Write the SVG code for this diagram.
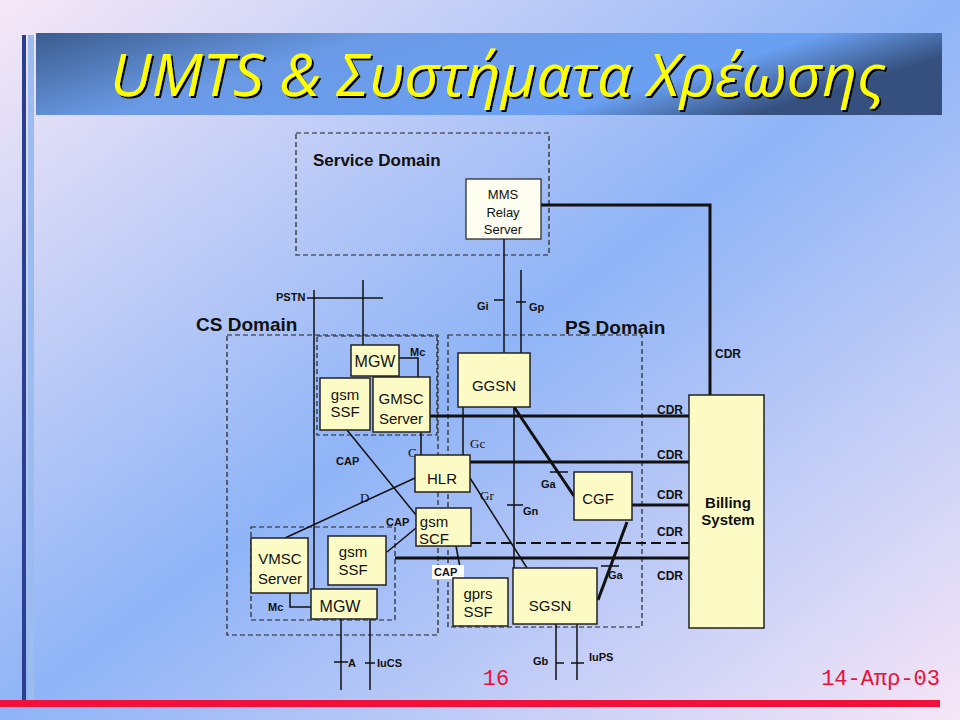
<svg xmlns="http://www.w3.org/2000/svg" width="960" height="720" viewBox="0 0 960 720">
<defs>
<linearGradient id="bg" x1="0" y1="0" x2="1" y2="1"><stop offset="0" stop-color="#f6e8f6"/><stop offset="0.5" stop-color="#8fb4f6"/><stop offset="1" stop-color="#f6e6f6"/></linearGradient>
<linearGradient id="ban" x1="0" y1="0" x2="1" y2="0.3"><stop offset="0" stop-color="#3b5c8e"/><stop offset="0.35" stop-color="#6a9ae6"/><stop offset="0.8" stop-color="#6aa0f2"/><stop offset="1" stop-color="#35507e"/></linearGradient>
<filter id="sh" x="-5%" y="-20%" width="110%" height="140%"><feDropShadow dx="2" dy="2" stdDeviation="0.5" flood-color="#000"/></filter>
</defs>
<style>
.n{fill:#fcfbc6;stroke:#222;stroke-width:1.5}
.t{font-family:"Liberation Sans",Arial,sans-serif;fill:#111;text-anchor:middle}
.s{font-family:"Liberation Sans",Arial,sans-serif;font-weight:bold;font-size:11px;fill:#111}
.sf{font-family:"Liberation Serif",serif;font-size:13px;fill:#111}
.l{stroke:#111;stroke-width:1.5;fill:none}
.k{stroke:#111;stroke-width:3;fill:none}
.d{stroke:#222;stroke-width:1.2;stroke-dasharray:5 3;fill:none}
.cdr{font-family:"Liberation Sans",Arial,sans-serif;font-weight:bold;font-size:12px;fill:#111;text-anchor:middle}
</style>
<rect width="960" height="720" fill="url(#bg)"/>
<rect x="22" y="35" width="4" height="665" fill="#2a3f8f"/>
<rect x="28" y="35" width="6" height="665" fill="#9cbcf0"/>
<rect x="36" y="33" width="906" height="82" fill="url(#ban)"/>
<text x="110" y="96" textLength="775" lengthAdjust="spacingAndGlyphs" font-family="Open Sans,'DejaVu Sans',sans-serif" font-style="italic" font-size="58" fill="#ffff00" filter="url(#sh)">UMTS &amp; Συστήματα Χρέωσης</text>
<rect x="0" y="700" width="940" height="7" fill="#f0103a"/>

<g id="domains">
<rect x="296" y="133" width="253" height="122" class="d"/>
<text x="313" y="166" font-family="Liberation Sans,Arial,sans-serif" font-weight="bold" font-size="17" fill="#111">Service Domain</text>
<rect x="227" y="335" width="211" height="300" fill="#ffffff" class="d"/>
<rect x="317" y="336" width="120" height="99" fill="#f3f3f3" class="d"/>
<rect x="251" y="527" width="144" height="93" fill="#f3f3f3" class="d"/>
<rect x="448" y="335" width="194" height="292" class="d"/>
<text x="196" y="331" font-family="Liberation Sans,Arial,sans-serif" font-weight="bold" font-size="19" fill="#111">CS Domain</text>
<text x="565" y="334" font-family="Liberation Sans,Arial,sans-serif" font-weight="bold" font-size="19" fill="#111">PS Domain</text>
</g>

<g id="connectors">
<polyline class="k" points="541,205 710,205 710,395"/>
<line class="l" x1="504" y1="239" x2="504" y2="353"/><line class="l" x1="494" y1="300" x2="504" y2="300"/>
<line class="l" x1="521" y1="270" x2="521" y2="353"/><line class="l" x1="516" y1="302" x2="526" y2="302"/>
<line class="l" x1="307" y1="298" x2="383" y2="298"/>
<line class="l" x1="314" y1="290" x2="314" y2="620"/>
<line class="l" x1="363" y1="280" x2="363" y2="345"/>
<polyline class="l" points="399,358 418,358 418,377"/>
<line class="l" x1="421" y1="432" x2="421" y2="455"/>
<line class="l" x1="347" y1="430" x2="416" y2="515"/>
<line class="l" x1="415" y1="478" x2="285" y2="538"/>
<line class="l" x1="387" y1="552" x2="416" y2="528"/>
<polyline class="l" points="290,593 290,607 311,607"/>
<line class="l" x1="341" y1="619" x2="341" y2="690"/><line class="l" x1="334" y1="662" x2="348" y2="662"/>
<line class="l" x1="370" y1="619" x2="370" y2="690"/><line class="l" x1="365" y1="663" x2="375" y2="663"/>
<line class="l" x1="463" y1="407" x2="463" y2="455"/>
<line class="l" x1="514" y1="407" x2="514" y2="568"/><line class="l" x1="507" y1="505" x2="523" y2="505"/>
<line class="k" x1="514" y1="407" x2="574" y2="496"/><line class="l" x1="550" y1="472" x2="568" y2="472"/>
<line class="l" x1="470" y1="478" x2="527" y2="568"/>
<line class="k" x1="430" y1="416" x2="689" y2="416"/>
<line class="k" x1="470" y1="462" x2="689" y2="462"/>
<line class="k" x1="632" y1="505" x2="689" y2="505"/>
<line x1="471" y1="543" x2="689" y2="543" stroke="#111" stroke-width="2" stroke-dasharray="10 5"/>
<line class="k" x1="395" y1="558" x2="689" y2="558"/>
<line class="k" x1="627" y1="522" x2="598" y2="600"/><line class="l" x1="601" y1="566" x2="619" y2="566"/>
<line class="l" x1="456" y1="546" x2="462" y2="578"/>
<line class="l" x1="556" y1="624" x2="556" y2="680"/><line class="l" x1="556" y1="663" x2="564" y2="663"/>
<line class="l" x1="577" y1="624" x2="577" y2="680"/><line class="l" x1="571" y1="663" x2="584" y2="663"/>
</g>

<g id="labels">
<text class="s" x="276" y="301">PSTN</text>
<text class="s" x="477" y="310">Gi</text>
<text class="s" x="529" y="311">Gp</text>
<text class="s" x="410" y="356">Mc</text>
<text class="s" x="336" y="465">CAP</text>
<text class="sf" x="408" y="457">C</text>
<text class="sf" x="360" y="502">D</text>
<text class="s" x="386" y="526">CAP</text>
<text class="s" x="268" y="611">Mc</text>
<text class="s" x="348" y="667">A</text>
<text class="s" x="377" y="667">IuCS</text>
<text class="sf" x="470" y="448">Gc</text>
<text class="sf" x="480" y="500">Gr</text>
<text class="s" x="523" y="515">Gn</text>
<text class="s" x="541" y="488">Ga</text>
<text class="s" x="608" y="579">Ga</text>
<rect x="432" y="565" width="32" height="14" fill="#fff"/>
<text class="s" x="434" y="576">CAP</text>
<text class="s" x="533" y="665">Gb</text>
<text class="s" x="589" y="661">IuPS</text>
<text class="cdr" x="728" y="358">CDR</text>
<text class="cdr" x="670" y="414">CDR</text>
<text class="cdr" x="670" y="459">CDR</text>
<text class="cdr" x="670" y="499">CDR</text>
<text class="cdr" x="670" y="536">CDR</text>
<text class="cdr" x="670" y="580">CDR</text>
<text x="496" y="685" font-family="Liberation Mono,monospace" font-size="22" fill="#e8103a" text-anchor="middle">16</text>
<text x="940" y="685" font-family="Liberation Mono,'DejaVu Sans Mono',monospace" font-size="22" fill="#e8103a" text-anchor="end">14-Απρ-03</text>
</g>

<g id="mms"><rect x="466" y="179" width="75" height="60" fill="#fdfdf0" stroke="#222" stroke-width="1.2"/>
<text class="t" font-size="13" x="503" y="199">MMS</text><text class="t" font-size="13" x="503" y="217">Relay</text><text class="t" font-size="13" x="503" y="234">Server</text></g>
<g id="mgw1"><rect class="n" x="351" y="345" width="48" height="31"/><text class="t" font-size="16" x="375" y="367">MGW</text></g>
<g id="gsmssf1"><rect class="n" x="320" y="378" width="50" height="52"/><text class="t" font-size="15" x="345" y="400">gsm</text><text class="t" font-size="15" x="345" y="417">SSF</text></g>
<g id="gmsc"><rect class="n" x="373" y="377" width="57" height="55"/><text class="t" font-size="15" x="401" y="404">GMSC</text><text class="t" font-size="15" x="401" y="424">Server</text></g>
<g id="hlr"><rect class="n" x="415" y="455" width="55" height="37"/><text class="t" font-size="15" x="442" y="484">HLR</text></g>
<g id="gsmscf"><rect class="n" x="416" y="508" width="55" height="38"/><text class="t" font-size="15" x="434" y="527">gsm</text><text class="t" font-size="15" x="434" y="544">SCF</text></g>
<g id="vmsc"><rect class="n" x="251" y="538" width="57" height="55"/><text class="t" font-size="15" x="280" y="564">VMSC</text><text class="t" font-size="15" x="280" y="584">Server</text></g>
<g id="gsmssf2"><rect class="n" x="328" y="536" width="58" height="49"/><text class="t" font-size="15" x="353" y="557">gsm</text><text class="t" font-size="15" x="353" y="575">SSF</text></g>
<g id="mgw2"><rect class="n" x="311" y="589" width="66" height="30"/><text class="t" font-size="16" x="340" y="612">MGW</text></g>
<g id="ggsn"><rect class="n" x="458" y="353" width="72" height="54"/><text class="t" font-size="15" x="494" y="391">GGSN</text></g>
<g id="cgf"><rect class="n" x="574" y="472" width="58" height="48"/><text class="t" font-size="15" x="598" y="504">CGF</text></g>
<g id="sgsn"><rect class="n" x="513" y="568" width="84" height="56"/><text class="t" font-size="15" x="550" y="611">SGSN</text></g>
<g id="gprsssf"><rect class="n" x="453" y="578" width="55" height="48"/><text class="t" font-size="15" x="478" y="599">gprs</text><text class="t" font-size="15" x="478" y="617">SSF</text></g>
<g id="billing"><rect class="n" x="689" y="395" width="75" height="233"/><text class="t" font-size="15" font-weight="bold" x="728" y="508">Billing</text><text class="t" font-size="15" font-weight="bold" x="728" y="525">System</text></g>
</svg>
